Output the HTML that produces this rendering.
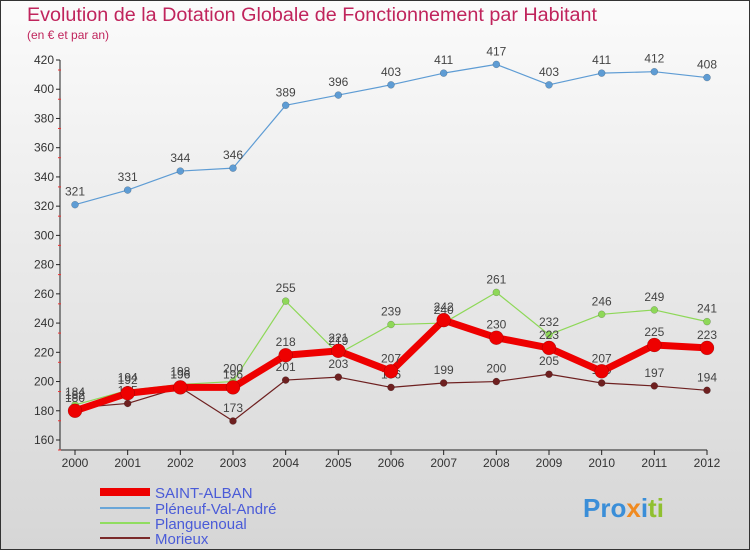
<!DOCTYPE html>
<html><head><meta charset="utf-8"><style>
body{margin:0;width:750px;height:550px;overflow:hidden;font-family:"Liberation Sans",sans-serif}
#wrap{position:absolute;left:0;top:0;width:748px;height:548px;border:1px solid #333;background:linear-gradient(#fbfbfb,#d6d6d6)}
</style></head><body>
<div id="wrap">
<svg id="chart" width="750" height="550" style="position:absolute;left:-1px;top:-1px">
<text x="27" y="21" font-size="19" fill="#c0245c" textLength="570" lengthAdjust="spacingAndGlyphs">Evolution de la Dotation Globale de Fonctionnement par Habitant</text>
<text x="27" y="39" font-size="12" fill="#c0245c">(en € et par an)</text>
<g id="axes"></g><g id="series"></g>
<g font-size="15" fill="#4a5bd8">
<rect x="100" y="488" width="50" height="8" fill="#ee0000"/>
<text x="155" y="498">SAINT-ALBAN</text>
<rect x="100" y="507" width="50" height="2" fill="#6aa6d8"/>
<text x="155" y="514">Pléneuf-Val-André</text>
<rect x="100" y="522" width="50" height="2" fill="#90dd60"/>
<text x="155" y="529">Planguenoual</text>
<rect x="100" y="537" width="50" height="2" fill="#7a2a2a"/>
<text x="155" y="544">Morieux</text>
</g>
<text x="583" y="517" font-size="26" font-weight="bold"><tspan fill="#3a8ed8">Pro</tspan><tspan fill="#f08a20">x</tspan><tspan fill="#3a8ed8">i</tspan><tspan fill="#90c030">ti</tspan></text>
</svg></div>
<script>
const years=[2000,2001,2002,2003,2004,2005,2006,2007,2008,2009,2010,2011,2012];
const yTicks=[160,180,200,220,240,260,280,300,320,340,360,380,400,420];
const pleneuf=[321,331,344,346,389,396,403,411,417,403,411,412,408];
const planguenoual=[184,194,198,200,255,219,239,240,261,232,246,249,241];
const morieux=[182,185,196,173,201,203,196,199,200,205,199,197,194];
const saintAlban=[180,192,196,196,218,221,207,242,230,223,207,225,223];
const NS="http://www.w3.org/2000/svg";
function xS(i){return 75+i*(707-75)/(years.length-1);}
function yS(v){return 440-(v-160)*380/260;}
function mk(t,a,p){const e=document.createElementNS(NS,t);for(const k in a)e.setAttribute(k,a[k]);p.appendChild(e);return e;}
const ax=document.getElementById('axes');
const yl=mk('line',{x1:60,y1:60,x2:60,y2:450,stroke:'#222'},ax);


const xl=mk('line',{x1:60,y1:450,x2:707,y2:450,stroke:'#222'},ax);


yTicks.forEach(v=>{const y=yS(v);
 mk('line',{x1:56,y1:y,x2:60,y2:y,stroke:'#222'},ax);
 mk('line',{x1:58,y1:y+10,x2:61,y2:y+10,stroke:'#e33'},ax);
 const t=mk('text',{x:54,y:y+4,'font-size':12,'text-anchor':'end',fill:'#333'},ax);t.textContent=v;
 
 });
years.forEach((yr,i)=>{const x=xS(i);
 mk('line',{x1:x,y1:450,x2:x,y2:455,stroke:'#222'},ax);
 const t=mk('text',{x:x,y:467,'font-size':12,'text-anchor':'middle',fill:'#333'},ax);t.textContent=yr;
 
 });
const sg=document.getElementById('series');
function draw(data,name,color,w,r){
 const g=mk('g',{},sg);
 
 
 const pl=mk('polyline',{points:data.map((v,i)=>xS(i)+','+yS(v)).join(' '),fill:'none',stroke:color,'stroke-width':w,'stroke-linejoin':'round'},g);
 
 
 data.forEach((v,i)=>{const c=mk('circle',{cx:xS(i),cy:yS(v),r:r,fill:color,stroke:'rgba(0,0,0,0.3)','stroke-width':0.5},g);
  
  
  const t=mk('text',{x:xS(i),y:yS(v)-9,'font-size':12,'text-anchor':'middle',fill:'#444'},g);t.textContent=v;
  
  });
}
draw(morieux,'morieux','#6e2020',1.2,3.5);
draw(planguenoual,'planguenoual','#8ed858',1.2,3.5);
draw(saintAlban,'saint-alban','#ee0000',7,7);
draw(pleneuf,'pleneuf','#5e9cd4',1.2,3.5);
</script>
</body></html>
